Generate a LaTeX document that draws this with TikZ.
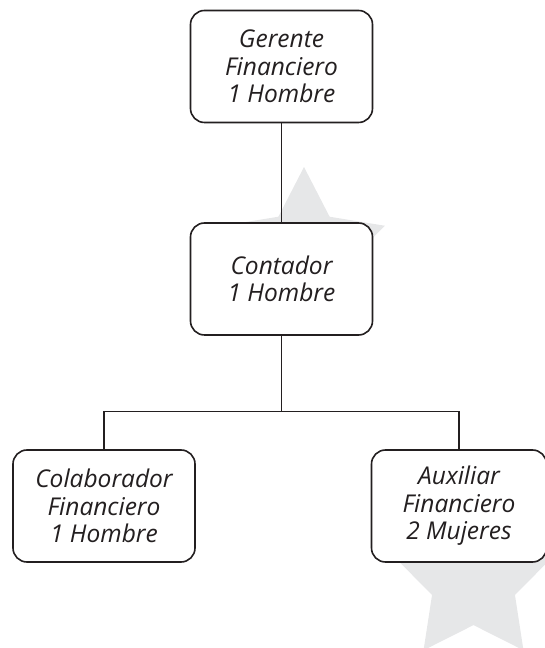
\documentclass[tikz,border=0pt]{standalone}
\usepackage{fontspec}
\setmainfont{Open Sans}
\usetikzlibrary{shapes.geometric}
\definecolor{inkgray}{HTML}{231F20}
\definecolor{stargray}{HTML}{E6E7E8}

\begin{document}
\begin{tikzpicture}[x=1pt, y=1pt, grow=down]

% Set the overall layout of the tree
\tikzstyle{level 1}=[level distance=212.5pt]
\tikzstyle{level 2}=[level distance=227pt, sibling distance=355pt,
    edge from parent path={(\tikzparentnode.south) -- ++(0,-76pt) -| (\tikzchildnode.north)}]
\tikzstyle{edge from parent}=[draw=inkgray, line width=1.1pt]

% Define styles for boxes and stars
\tikzstyle{puesto} = [draw=inkgray, line width=1.6pt, rounded corners=14pt, fill=white,
    text=inkgray, minimum width=182pt, minimum height=112pt, align=center,
    font=\fontsize{24.5}{27.5}\selectfont\itshape]
\tikzstyle{estrella} = [star, star points=5, star point ratio=1.95, minimum size=170pt,
    fill=stargray, inner sep=0pt]

\useasboundingbox (0,0) rectangle (545,648);

% Stars behind the boxes
\node[estrella] (estrellaA) at (304,396) {};
\node[estrella] (estrellaB) at (473.5,66.5) {};

% Builds from top to bottom
\node[puesto] (gerente) at (281.5,581.5) {Gerente\\Financiero\\1 Hombre}
    child {
        node[puesto] (contador) {Contador\\1 Hombre}
            child {
                node[puesto] (colaborador) {Colaborador\\Financiero\\1 Hombre}
            }
            child {
                node[puesto, minimum width=175pt] (auxiliar) {Auxiliar\\Financiero\\2 Mujeres}
            }
    };
\end{tikzpicture}
\end{document}
